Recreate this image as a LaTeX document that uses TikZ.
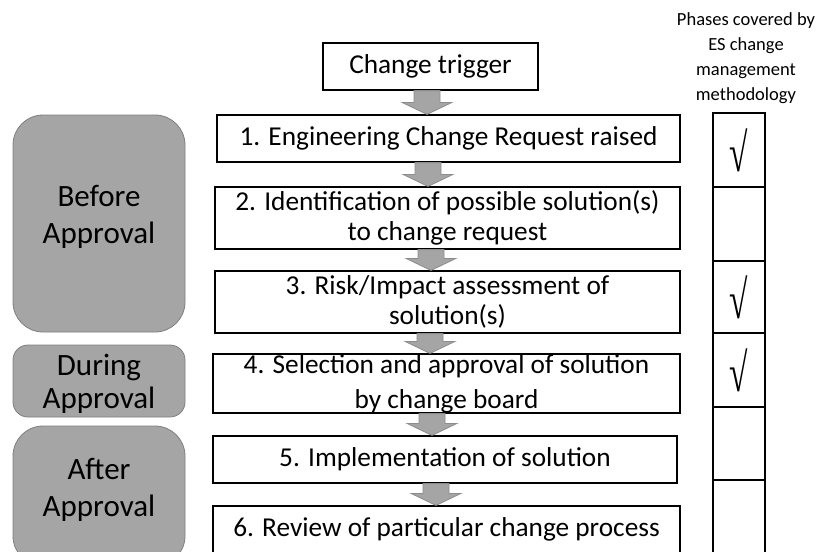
\documentclass[tikz,border=0pt]{standalone}
\usepackage{fontspec}
\usepackage{graphicx}
\setmainfont{Carlito}
\newfontfamily\checkfont{Liberation Serif}
\usetikzlibrary{calc}
\definecolor{boxgray}{HTML}{A5A5A5}
\definecolor{edgegray}{HTML}{7F7F7F}
\definecolor{arrowedge}{HTML}{8C8C8C}
\newcommand{\tick}{\scalebox{0.62}[1]{√}\hspace{12pt}}
\begin{document}
\begin{tikzpicture}[x=1pt,y=-1pt,
  stepbox/.style={draw=black, line width=1.2pt, fill=white, inner sep=0pt, align=center, font=\fontsize{27.3}{30}\selectfont},
  phase/.style={draw=edgegray, line width=0.8pt, fill=boxgray, inner sep=0pt, align=center, minimum width=172pt, font=\fontsize{31}{37}\selectfont},
  cell/.style={draw=black, line width=1.5pt, inner sep=0pt, minimum width=52pt, font=\checkfont\fontsize{54}{56}\selectfont},
  blockarrow/.style={draw=arrowedge, fill=boxgray, line width=0.8pt,
    to path={let \p1=(\tikztostart), \p2=(\tikztotarget) in
      (\x1-13pt,\y1) -- (\x1+13pt,\y1) -- (\x1+13pt,\y2+12pt) -- (\x1+25pt,\y2+12pt)
      -- (\x1,\y2) -- (\x1-25pt,\y2+12pt) -- (\x1-13pt,\y2+12pt) -- cycle}}
]
\useasboundingbox (0,0) rectangle (820,552);
\clip (0,0) rectangle (820,552);

% process boxes
\node[stepbox, minimum width=215pt, minimum height=47pt] (trig) at (430.5,66.5) {Change trigger};
\node[stepbox, minimum width=463pt, minimum height=47pt] (b1) at (448.5,138.5) {1. Engineering Change Request raised};
\node[stepbox, minimum width=465pt, minimum height=62pt] (b2) at (447.5,218) {2. Identification of possible solution(s)\\to change request};
\node[stepbox, minimum width=465pt, minimum height=62pt] (b3) at (447.5,302) {3. Risk/Impact assessment of\\solution(s)};
\node[stepbox, minimum width=467pt, minimum height=59pt, font=\fontsize{27.3}{35}\selectfont] (b4) at (446.5,383.5) {4. Selection and approval of solution\\by change board};
\node[stepbox, minimum width=464pt, minimum height=47pt] (b5) at (445,459.5) {5. Implementation of solution};
\node[stepbox, minimum width=467pt, minimum height=47pt] (b6) at (446.5,529.5) {6. Review of particular change process};

% arrows
\draw[blockarrow] (427,0 |- trig.south) to (427,0 |- b1.north);
\draw[blockarrow] (428,0 |- b1.south) to (428,0 |- b2.north);
\draw[blockarrow] (431,0 |- b2.south) to (431,0 |- b3.north);
\draw[blockarrow] (430,0 |- b3.south) to (430,0 |- b4.north);
\draw[blockarrow] (432,0 |- b4.south) to (432,0 |- b5.north);
\draw[blockarrow] (436,0 |- b5.south) to (436,0 |- b6.north);

% phase boxes
\node[phase, rounded corners=30pt, minimum height=217pt, text depth=19pt] (before) at (99,223.5) {Before\\Approval};
\node[phase, rounded corners=15pt, minimum height=72pt, text depth=-3pt, font=\fontsize{31}{33}\selectfont] (during) at (99,381) {During\\Approval};
\node[phase, rounded corners=30pt, minimum height=140pt, text depth=17pt] (after) at (99,496) {After\\Approval};

% coverage column
\node[font=\fontsize{18.5}{25}\selectfont, align=center, inner sep=0pt] (hdr) at (746,58) {Phases covered by\\ES change\\management\\methodology};
\node[cell, minimum height=74pt] (c1) at (739,150) {\tick};
\node[cell, minimum height=74pt] (c2) at (739,224) {};
\node[cell, minimum height=72pt] (c3) at (739,297) {\tick};
\node[cell, minimum height=74pt] (c4) at (739,370) {\tick};
\node[cell, minimum height=73pt] (c5) at (739,443.5) {};
\node[cell, minimum height=80pt] (c6) at (739,520) {};
\end{tikzpicture}
\end{document}
